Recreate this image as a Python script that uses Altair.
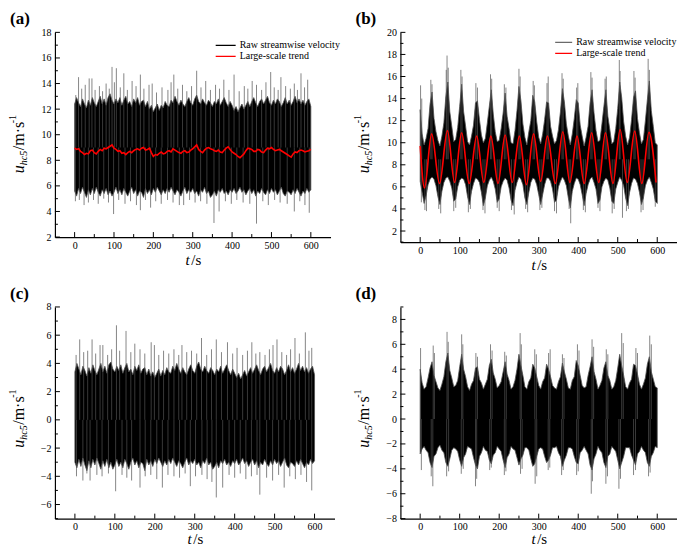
import altair as alt
import pandas as pd

FONT = "Times New Roman, Liberation Serif, serif"
RAW = "Raw streamwise velocity"
TREND = "Large-scale trend"

X_MAJOR = [0, 100, 200, 300, 400, 500, 600]
X_MINOR = [50, 150, 250, 350, 450, 550]

T5 = list(range(0, 601, 5))

# ---------------- panel (a): raw velocity + large-scale trend ----------------
A_UP = [12.4, 12.9, 12.5, 12.2, 12.8, 12.4, 12.1, 12.7, 12.3, 12.9,
        12.5, 12.2, 12.6, 13.0, 12.4, 12.8, 12.3, 12.9, 13.2, 12.7,
        12.4, 12.8, 12.5, 12.9, 12.3, 12.7, 13.0, 12.4, 12.6, 12.2,
        12.8, 12.5, 12.9, 12.3, 12.6, 12.7, 12.2, 12.6, 12.0, 12.3,
        11.8, 12.1, 12.4, 11.9, 12.3, 12.1, 12.6, 12.3, 12.2, 12.7,
        12.5, 13.0, 12.6, 12.3, 12.7, 12.4, 12.2, 12.6, 12.9, 12.5,
        12.3, 12.8, 13.1, 12.6, 12.4, 12.8, 12.5, 12.3, 12.7, 12.5,
        12.2, 12.6, 12.4, 12.8, 12.3, 12.6, 12.9, 12.5, 12.2, 12.6,
        12.3, 11.9, 12.2, 11.8, 12.1, 12.4, 12.0, 12.3, 12.6, 12.2,
        12.6, 12.9, 12.5, 12.2, 12.6, 12.8, 12.4, 12.7, 13.0, 12.5,
        12.3, 12.7, 12.4, 12.8, 12.6, 12.2, 12.5, 12.9, 12.4, 12.7,
        12.3, 12.6, 13.0, 12.5, 12.8, 12.4, 12.7, 12.3, 12.6, 12.8,
        12.2]
A_LO = [5.6, 5.2, 5.8, 5.4, 5.9, 5.5, 5.1, 5.7, 5.3, 5.8,
        5.4, 5.9, 5.5, 5.2, 5.7, 5.4, 5.8, 5.3, 5.6, 5.2,
        5.5, 5.9, 5.4, 5.7, 5.3, 5.8, 5.5, 5.2, 5.6, 5.9,
        5.4, 5.7, 5.2, 5.6, 5.5, 5.1, 5.8, 5.4, 5.7, 5.3,
        5.8, 5.5, 5.9, 5.6, 5.3, 5.7, 5.4, 5.8, 5.5, 5.9,
        5.6, 5.3, 5.7, 5.5, 5.2, 5.6, 5.9, 5.4, 5.7, 5.5,
        5.8, 5.4, 5.6, 5.2, 5.7, 5.5, 5.9, 5.4, 5.6, 5.1,
        5.3, 5.6, 5.2, 5.7, 5.5, 5.8, 5.4, 5.6, 5.3, 5.7,
        5.5, 5.8, 5.4, 5.6, 5.9, 5.5, 5.7, 5.3, 5.6, 5.8,
        5.4, 5.7, 5.2, 5.6, 5.4, 5.8, 5.5, 5.3, 5.7, 5.4,
        5.8, 5.5, 5.7, 5.3, 5.6, 5.9, 5.4, 5.2, 5.6, 5.5,
        5.3, 5.7, 5.4, 5.8, 5.5, 5.2, 5.6, 5.4, 5.8, 5.5,
        5.7]
A_TREND = [8.95, 8.85, 8.90, 8.70, 8.60, 8.45, 8.55, 8.50, 8.75, 8.80,
           8.60, 8.50, 8.70, 8.85, 8.75, 8.95, 8.90, 9.00, 9.10, 9.20,
           8.95, 8.85, 8.70, 8.75, 8.55, 8.60, 8.45, 8.60, 8.70, 8.60,
           8.75, 8.85, 8.90, 8.80, 8.95, 9.00, 8.80, 8.85, 8.95, 8.60,
           8.30, 8.45, 8.40, 8.55, 8.65, 8.50, 8.55, 8.70, 8.75, 8.65,
           8.90, 8.80, 8.70, 8.60, 8.55, 8.70, 8.75, 8.60, 8.65, 8.80,
           8.90, 9.05, 9.20, 8.85, 8.70, 8.60, 8.80, 8.95, 9.00, 8.90,
           8.85, 8.75, 8.70, 8.80, 8.65, 8.60, 8.80, 8.95, 9.05, 8.85,
           8.65, 8.55, 8.45, 8.30, 8.20, 8.35, 8.50, 8.75, 8.95, 8.90,
           8.85, 8.70, 8.70, 8.85, 8.80, 8.65, 8.60, 8.80, 8.95, 8.90,
           9.00, 8.85, 8.75, 8.80, 8.85, 8.75, 8.65, 8.55, 8.45, 8.35,
           8.25, 8.50, 8.65, 8.60, 8.75, 8.80, 8.75, 8.65, 8.70, 8.75,
           8.85]
A_SPK_UP_T = [3, 10, 18, 27, 37, 44, 52, 63, 71, 80,
              88, 95, 101, 106, 116, 125, 134, 146, 156, 167,
              176, 189, 197, 208, 222, 237, 245, 252, 262, 274,
              285, 297, 310, 321, 333, 345, 358, 368, 379, 392,
              405, 418, 431, 440, 451, 462, 475, 486, 498, 507,
              517, 524, 536, 548, 558, 566, 575, 584, 592]
A_SPK_UP_V = [13.1, 14.5, 13.6, 13.9, 14.4, 14.4, 13.5, 13.8, 13.4, 14.0,
              13.6, 15.3, 14.1, 15.2, 13.7, 14.8, 13.5, 14.2, 13.8, 14.7,
              13.6, 13.9, 14.0, 13.3, 13.7, 13.5, 14.1, 14.7, 13.6, 13.9,
              13.4, 13.8, 15.0, 13.7, 14.2, 13.5, 13.9, 13.6, 14.3, 13.5,
              14.7, 13.4, 13.8, 13.6, 14.2, 13.9, 13.5, 14.1, 14.9, 13.7,
              13.5, 14.5, 13.8, 13.6, 14.0, 13.5, 14.8, 13.7, 14.3]
A_SPK_DN_T = [2, 12, 24, 35, 48, 60, 74, 86, 99, 112,
              128, 142, 157, 167, 180, 193, 206, 220, 236, 250,
              266, 277, 292, 306, 320, 336, 354, 367, 383, 398,
              412, 428, 445, 462, 478, 492, 508, 522, 540, 558,
              572, 585, 596]
A_SPK_DN_V = [4.8, 4.9, 4.5, 4.7, 4.9, 4.6, 5.0, 4.7, 3.8, 4.9,
              4.6, 4.8, 4.5, 4.1, 4.9, 4.3, 4.8, 4.6, 4.9, 4.7,
              4.5, 4.5, 4.9, 4.7, 4.8, 4.6, 3.1, 4.0, 4.8, 4.6,
              4.9, 4.7, 4.6, 3.05, 4.8, 4.5, 4.9, 4.7, 4.6, 4.0,
              4.8, 4.5, 3.9]

# ---------------- panel (c): fluctuation of (a) ----------------
C_UP = [3.4, 4.0, 3.6, 3.2, 3.8, 3.5, 3.1, 3.7, 3.3, 3.9,
        3.5, 3.2, 3.6, 4.0, 3.4, 3.8, 3.3, 3.9, 4.1, 3.6,
        3.4, 3.8, 3.5, 3.9, 3.3, 3.7, 4.0, 3.4, 3.6, 3.2,
        3.8, 3.5, 3.9, 3.3, 3.6, 3.7, 3.2, 3.6, 3.1, 3.4,
        3.0, 3.3, 3.6, 3.1, 3.5, 3.2, 3.7, 3.4, 3.3, 3.8,
        3.5, 4.0, 3.6, 3.3, 3.7, 3.4, 3.2, 3.6, 3.9, 3.5,
        3.3, 3.8, 4.1, 3.6, 3.4, 3.8, 3.5, 3.3, 3.7, 3.5,
        3.2, 3.6, 3.4, 3.8, 3.3, 3.6, 3.9, 3.5, 3.2, 3.6,
        3.3, 3.0, 3.3, 2.9, 3.2, 3.5, 3.1, 3.4, 3.7, 3.3,
        3.6, 3.9, 3.5, 3.2, 3.6, 3.8, 3.4, 3.7, 4.0, 3.5,
        3.3, 3.7, 3.4, 3.8, 3.6, 3.2, 3.5, 3.9, 3.4, 3.7,
        3.3, 3.6, 4.0, 3.5, 3.8, 3.4, 3.7, 3.3, 3.6, 3.8,
        3.2]
C_LO = [-3.0, -3.4, -2.8, -3.3, -2.7, -3.2, -3.6, -2.9, -3.4, -2.8,
        -3.2, -2.7, -3.1, -3.5, -2.9, -3.3, -2.8, -3.4, -3.0, -3.5,
        -3.2, -2.8, -3.3, -3.0, -3.4, -2.8, -3.1, -3.5, -3.0, -2.7,
        -3.2, -2.9, -3.4, -3.0, -3.1, -3.6, -2.8, -3.2, -2.9, -3.3,
        -2.8, -3.1, -2.7, -3.0, -3.3, -2.9, -3.2, -2.8, -3.1, -2.7,
        -3.0, -3.3, -2.9, -3.1, -3.4, -3.0, -2.7, -3.2, -2.9, -3.1,
        -2.8, -3.2, -3.0, -3.4, -2.9, -3.1, -2.7, -3.2, -3.0, -3.5,
        -3.3, -3.0, -3.4, -2.9, -3.1, -2.8, -3.2, -3.0, -3.3, -2.9,
        -3.1, -2.8, -3.2, -3.0, -2.7, -3.1, -2.9, -3.3, -3.0, -2.8,
        -3.2, -2.9, -3.4, -3.0, -3.2, -2.8, -3.1, -3.3, -2.9, -3.2,
        -2.8, -3.1, -2.9, -3.3, -3.0, -2.7, -3.2, -3.4, -3.0, -3.1,
        -3.3, -2.9, -3.2, -2.8, -3.1, -3.4, -3.0, -3.2, -2.8, -3.1,
        -2.9]
C_SPK_UP_T = [3, 12, 22, 32, 43, 52, 63, 70, 82, 92,
              104, 112, 128, 140, 150, 163, 175, 191, 199, 210,
              222, 235, 248, 260, 268, 280, 292, 305, 317, 330,
              342, 354, 367, 382, 395, 406, 420, 432, 443, 453,
              463, 476, 487, 496, 506, 518, 530, 540, 551, 562,
              577, 586, 593]
C_SPK_UP_V = [4.6, 5.7, 4.8, 4.9, 5.7, 4.7, 5.3, 5.3, 4.6, 5.0,
              6.7, 4.9, 6.3, 4.8, 5.4, 5.0, 4.7, 5.5, 5.3, 4.6,
              4.9, 4.7, 5.0, 4.6, 5.3, 4.8, 4.9, 4.7, 5.8, 4.6,
              5.0, 5.7, 4.8, 5.5, 4.7, 5.1, 4.6, 4.9, 5.5, 4.7,
              4.8, 4.6, 5.0, 5.3, 5.7, 4.8, 4.6, 5.0, 5.8, 4.7,
              6.2, 4.9, 5.1]
C_SPK_DN_T = [4, 20, 30, 38, 55, 68, 84, 102, 118, 130,
              142, 163, 176, 190, 205, 219, 233, 248, 262, 276,
              289, 302, 318, 331, 343, 354, 370, 386, 400, 414,
              428, 442, 456, 463, 480, 495, 510, 524, 538, 552,
              566, 580, 593]
C_SPK_DN_V = [-4.0, -4.3, -3.8, -4.3, -3.9, -4.0, -3.8, -5.06, -3.9, -4.1,
              -4.3, -4.8, -4.0, -3.9, -4.2, -4.8, -3.9, -4.0, -4.1, -3.8,
              -4.7, -4.0, -3.9, -4.2, -4.4, -5.5, -4.8, -3.9, -4.1, -3.8,
              -4.2, -4.0, -3.9, -5.3, -4.1, -4.3, -3.9, -4.8, -4.0, -4.2,
              -3.9, -4.4, -5.0]

# ---------------- panel (b): modulated raw velocity + trend ----------------
B_UP = [13.0, 10.8, 9.8, 10.4, 11.3, 13.5, 14.6, 12.2, 11.0, 10.2,
        9.7, 10.6, 11.8, 14.2, 15.5, 12.8, 11.5, 10.1, 10.3, 11.4,
        13.3, 15.3, 12.8, 11.5, 10.1, 9.8, 10.6, 11.6, 13.6, 13.8,
        12.1, 10.7, 10.0, 10.4, 11.8, 13.3, 14.8, 12.6, 11.0, 10.1,
        10.2, 11.3, 12.7, 14.5, 12.4, 11.3, 10.0, 9.9, 11.1, 12.9,
        15.1, 13.8, 11.7, 10.5, 9.8, 11.0, 12.0, 14.3, 13.7, 11.9,
        10.5, 9.9, 10.8, 12.1, 13.7, 13.6, 11.5, 10.6, 9.9, 10.2,
        11.2, 12.8, 14.9, 13.7, 11.7, 10.6, 9.8, 10.8, 12.2, 13.9,
        13.6, 11.6, 10.6, 9.7, 10.5, 11.5, 13.6, 14.8, 12.7, 11.1,
        10.1, 10.2, 11.7, 13.3, 14.8, 12.4, 11.2, 9.9, 10.1, 11.3,
        13.1, 15.5, 14.1, 11.9, 10.6, 9.8, 10.5, 12.1, 14.1, 14.7,
        12.2, 10.9, 9.9, 10.3, 12.0, 13.9, 15.6, 12.9, 11.5, 10.0,
        9.8]
B_LO = [6.5, 5.5, 4.5, 5.2, 6.2, 6.7, 6.9, 6.7, 6.1, 5.1,
        4.4, 5.6, 6.4, 6.8, 6.9, 6.5, 5.9, 4.7, 4.9, 6.0,
        6.6, 6.8, 6.7, 6.2, 5.1, 4.4, 5.6, 6.3, 6.8, 6.7,
        6.4, 5.5, 4.3, 5.0, 6.1, 6.6, 6.9, 6.5, 5.8, 4.6,
        4.9, 6.0, 6.5, 6.8, 6.6, 5.9, 4.8, 4.3, 5.7, 6.4,
        6.9, 6.7, 6.2, 5.0, 4.4, 5.5, 6.4, 6.8, 6.7, 6.2,
        5.3, 4.4, 5.3, 6.2, 6.8, 6.8, 6.5, 5.8, 4.6, 4.8,
        6.0, 6.5, 6.9, 6.6, 6.1, 5.0, 4.1, 5.6, 6.3, 6.8,
        6.7, 6.2, 5.3, 4.3, 5.4, 6.2, 6.7, 6.9, 6.4, 5.8,
        4.5, 4.8, 6.0, 6.5, 6.8, 6.6, 5.9, 4.7, 4.5, 5.8,
        6.4, 6.9, 6.6, 6.1, 5.0, 4.3, 5.5, 6.3, 6.8, 6.7,
        6.3, 5.5, 4.4, 5.0, 6.1, 6.6, 6.9, 6.4, 5.8, 4.7,
        4.5]
B_TREND_T = [0, 11, 29, 49, 69, 87, 105, 124, 143, 161, 179, 197, 215, 233,
             251, 269, 287, 305, 322, 342, 361, 379, 397, 415, 434, 452,
             469, 488, 506, 524, 543, 561, 579, 597]
B_TREND_V = [9.7, 5.9, 10.8, 6.3, 11.1, 6.4, 10.9, 6.3, 10.6, 6.4, 10.6, 6.3, 10.7, 6.4,
             10.6, 6.2, 10.8, 6.5, 10.6, 6.3, 11.0, 6.4, 10.6, 6.3, 10.9, 6.4,
             10.9, 6.3, 11.2, 6.4, 11.05, 6.3, 10.95, 6.4]
B_SPK_UP_T = [1, 4, 27, 30, 66, 68, 71, 103, 106, 141,
              145, 178, 181, 213, 217, 250, 253, 286, 289, 321,
              324, 359, 362, 396, 399, 432, 435, 468, 471, 504,
              506, 541, 544, 577, 580]
B_SPK_UP_V = [15.2, 14.0, 15.7, 15.3, 16.6, 17.9, 16.8, 16.6, 16.0, 15.4,
              15.0, 16.2, 15.8, 15.3, 15.0, 16.7, 16.0, 15.6, 15.2, 15.4,
              16.0, 16.3, 15.8, 15.0, 15.4, 16.4, 15.9, 15.8, 16.0, 17.5,
              16.5, 16.5, 15.9, 17.6, 16.6]
B_SPK_DN_T = [3, 12, 16, 47, 52, 85, 90, 122, 127, 159,
              164, 195, 200, 231, 238, 267, 272, 303, 308, 340,
              345, 377, 381, 413, 418, 450, 455, 486, 491, 512,
              522, 527, 559, 564, 595]
B_SPK_DN_V = [4.6, 3.9, 3.8, 4.0, 3.6, 3.8, 4.1, 3.7, 4.0, 3.9,
              3.6, 4.1, 3.8, 3.9, 3.5, 4.0, 3.7, 3.9, 4.1, 3.8,
              3.6, 4.0, 2.7, 3.9, 3.7, 4.1, 3.8, 3.6, 4.0, 3.2,
              3.8, 4.0, 3.7, 3.9, 4.2]

# ---------------- panel (d): fluctuation of (b) ----------------
D_UP = [4.0, 2.9, 2.4, 2.6, 3.3, 4.1, 4.6, 3.5, 3.0, 2.5,
        2.3, 2.8, 3.4, 4.6, 5.3, 3.9, 3.3, 2.6, 2.7, 3.1,
        4.2, 5.2, 4.0, 3.4, 2.6, 2.3, 2.8, 3.1, 4.1, 4.2,
        3.2, 2.9, 2.4, 2.8, 3.2, 4.3, 4.8, 3.7, 3.2, 2.5,
        2.7, 3.0, 3.8, 4.6, 3.6, 3.1, 2.4, 2.6, 3.1, 4.0,
        5.2, 4.3, 3.5, 2.6, 2.4, 3.0, 3.3, 4.4, 4.1, 3.4,
        2.7, 2.4, 3.0, 3.3, 4.4, 4.0, 3.4, 2.7, 2.5, 2.4,
        3.0, 3.4, 4.5, 3.8, 3.2, 2.5, 2.4, 3.1, 3.4, 4.7,
        4.3, 3.5, 2.7, 2.5, 2.6, 3.5, 4.2, 5.0, 3.8, 3.2,
        2.4, 2.7, 3.1, 4.1, 4.6, 3.5, 3.1, 2.4, 2.6, 3.1,
        4.1, 5.2, 4.3, 3.5, 2.6, 2.4, 2.9, 3.2, 4.4, 4.3,
        3.6, 2.8, 2.4, 2.8, 3.3, 4.4, 5.0, 3.8, 3.2, 2.6,
        2.5]
D_LO = [-2.8, -2.4, -2.2, -2.5, -2.7, -3.5, -3.9, -3.0, -2.8, -2.3,
        -2.1, -2.5, -2.7, -3.5, -3.8, -3.2, -2.5, -2.3, -2.4, -2.6,
        -3.3, -3.8, -3.1, -2.8, -2.2, -2.3, -2.4, -3.1, -3.7, -4.0,
        -3.0, -2.7, -2.2, -2.5, -2.6, -3.3, -3.6, -2.9, -2.7, -2.2,
        -2.4, -2.6, -3.3, -3.9, -3.1, -2.8, -2.2, -2.4, -2.5, -3.1,
        -3.7, -3.2, -2.9, -2.3, -2.3, -2.5, -3.2, -3.8, -3.6, -3.0,
        -2.4, -2.3, -2.4, -3.0, -3.5, -3.3, -2.9, -2.3, -2.3, -2.2,
        -2.7, -3.0, -3.8, -3.3, -2.9, -2.3, -2.3, -2.4, -3.0, -3.5,
        -3.6, -2.7, -2.5, -2.2, -2.5, -2.8, -3.7, -4.1, -3.2, -2.8,
        -2.2, -2.5, -2.7, -3.5, -3.9, -3.0, -2.8, -2.2, -2.4, -2.6,
        -3.3, -4.0, -3.5, -3.0, -2.3, -2.3, -2.3, -2.9, -3.3, -3.7,
        -2.8, -2.6, -2.2, -2.5, -2.7, -3.5, -3.8, -3.0, -2.7, -2.2,
        -2.3]
D_SPK_UP_T = [1, 33, 36, 68, 71, 105, 108, 141, 145, 178,
              182, 214, 218, 253, 256, 290, 294, 325, 329, 360,
              364, 398, 402, 435, 439, 471, 475, 510, 514, 546,
              550, 581, 585]
D_SPK_UP_V = [5.7, 5.9, 5.3, 7.0, 6.2, 6.8, 6.0, 5.3, 5.0, 6.0,
              5.5, 5.4, 5.1, 6.9, 6.0, 5.6, 5.2, 5.3, 5.6, 5.2,
              4.9, 6.0, 5.5, 6.4, 5.8, 5.6, 5.2, 6.9, 6.1, 5.7,
              5.3, 6.7, 6.0]
D_SPK_DN_T = [3, 28, 32, 67, 72, 104, 109, 140, 143, 176,
              180, 213, 217, 254, 258, 291, 295, 324, 328, 358,
              362, 396, 400, 433, 436, 470, 474, 503, 507, 540,
              545, 578, 582]
D_SPK_DN_V = [-4.1, -4.6, -5.4, -4.6, -4.2, -4.4, -4.0, -5.4, -4.8, -4.1,
              -3.9, -4.5, -4.2, -4.4, -4.0, -5.2, -4.6, -4.1, -3.9, -4.5,
              -4.1, -4.5, -4.2, -6.0, -5.0, -5.2, -4.6, -5.6, -4.8, -4.5,
              -4.1, -4.6, -4.3]

for a, b in [(T5, A_UP), (T5, A_LO), (T5, A_TREND), (T5, C_UP), (T5, C_LO),
             (T5, B_UP), (T5, B_LO), (T5, D_UP), (T5, D_LO),
             (A_SPK_UP_T, A_SPK_UP_V), (A_SPK_DN_T, A_SPK_DN_V),
             (C_SPK_UP_T, C_SPK_UP_V), (C_SPK_DN_T, C_SPK_DN_V),
             (B_TREND_T, B_TREND_V), (B_SPK_UP_T, B_SPK_UP_V), (B_SPK_DN_T, B_SPK_DN_V),
             (D_SPK_UP_T, D_SPK_UP_V), (D_SPK_DN_T, D_SPK_DN_V)]:
    assert len(a) == len(b), (len(a), len(b))


def txt(s, x, y, size, style="normal", weight="normal", angle=0,
        align="left", baseline="alphabetic"):
    return alt.Chart(pd.DataFrame({"s": [s]})).mark_text(
        font=FONT, fontSize=size, fontStyle=style, fontWeight=weight,
        angle=angle, align=align, baseline=baseline, color="black"
    ).encode(text="s:N", x=alt.value(x), y=alt.value(y))


def panel(tag, W, H, ydom, ymajor, yminor, up, lo,
          su_t, su_v, sd_t, sd_v, base, xt_dy, yt_center,
          trend_t=None, trend_v=None, trend_interp="linear",
          raw_color="black", leg_x=0, leg_y=0, leg_len=20):
    xs = alt.Scale(domain=[-50, 650], nice=False, zero=False)
    ys = alt.Scale(domain=ydom, nice=False, zero=False)
    xax = alt.Axis(values=X_MAJOR, title=None, ticks=False, grid=False,
                   labelPadding=3, labelFlush=False)
    yax = alt.Axis(values=ymajor, title=None, ticks=False, grid=False,
                   labelPadding=4, labelFlush=False)

    def X(f):
        return alt.X(f, scale=xs, axis=xax)

    def Y(f):
        return alt.Y(f, scale=ys, axis=yax)

    env = pd.DataFrame({"t": T5, "up": up, "lo": lo})
    layers = [
        alt.Chart(env).mark_area(color="black", interpolate="linear",
                                 stroke="#505050", strokeWidth=0.8).encode(
            x=X("t:Q"), y=Y("up:Q"), y2="lo:Q"),
        alt.Chart(pd.DataFrame({"t": su_t, "v": su_v})).mark_rule(
            color="#505050", strokeWidth=0.7).encode(
            x=X("t:Q"), y=Y("v:Q"), y2=alt.datum(base)),
        alt.Chart(pd.DataFrame({"t": sd_t, "v": sd_v})).mark_rule(
            color="#505050", strokeWidth=0.7).encode(
            x=X("t:Q"), y=Y("v:Q"), y2=alt.datum(base)),
    ]
    if trend_t is not None:
        tr = pd.DataFrame({"t": trend_t, "v": trend_v, "series": TREND})
        layers.append(
            alt.Chart(tr).mark_line(strokeWidth=1.6, interpolate=trend_interp).encode(
                x=X("t:Q"), y=Y("v:Q"),
                color=alt.Color("series:N",
                                scale=alt.Scale(domain=[RAW, TREND],
                                                range=[raw_color, "#ff0000"]),
                                legend=alt.Legend(
                                    orient="none", legendX=leg_x, legendY=leg_y,
                                    title=None, symbolType="stroke",
                                    symbolSize=leg_len * leg_len,
                                    symbolStrokeWidth=1.3, labelFont=FONT,
                                    labelFontSize=10, labelColor="black",
                                    labelOffset=3, clipHeight=11, rowPadding=0,
                                    padding=0))))
    # inward tick marks (major and minor)
    layers += [
        alt.Chart(pd.DataFrame({"v": ymajor})).mark_rule(color="black", strokeWidth=1).encode(
            y=Y("v:Q"), x=alt.value(0), x2=alt.value(5)),
        alt.Chart(pd.DataFrame({"v": yminor})).mark_rule(color="black", strokeWidth=1).encode(
            y=Y("v:Q"), x=alt.value(0), x2=alt.value(3)),
        alt.Chart(pd.DataFrame({"v": X_MAJOR})).mark_rule(color="black", strokeWidth=1).encode(
            x=X("v:Q"), y=alt.value(H), y2=alt.value(H - 5)),
        alt.Chart(pd.DataFrame({"v": X_MINOR})).mark_rule(color="black", strokeWidth=1).encode(
            x=X("v:Q"), y=alt.value(H), y2=alt.value(H - 3)),
    ]
    # panel tag
    layers.append(txt(tag, -45, -21, 17, weight="bold", baseline="top"))
    # y title: u_hc5 / m·s^-1
    y0 = yt_center + 29
    layers += [
        txt("u", -31, y0, 16, style="italic", angle=270),
        txt("hc5", -28, y0 - 8, 10, style="italic", angle=270),
        txt("/m\u00b7s", -31, y0 - 23, 16, angle=270),
        txt("-1", -39, y0 - 50, 10, angle=270),
    ]
    # x title: t/s
    layers += [
        txt("t", W / 2 - 3, H + xt_dy, 15, style="italic", align="right"),
        txt("/s", W / 2 - 1.5, H + xt_dy, 15, align="left"),
    ]
    return alt.layer(*layers).properties(width=W, height=H)


pa = panel("(a)", 276, 205, [2, 18], list(range(2, 19, 2)), list(range(3, 18, 2)),
           A_UP, A_LO, A_SPK_UP_T, A_SPK_UP_V, A_SPK_DN_T, A_SPK_DN_V, 9.0,
           28, 112, trend_t=T5, trend_v=A_TREND, trend_interp="linear",
           raw_color="black", leg_x=160, leg_y=7.5, leg_len=20)
pb = panel("(b)", 277, 210, [1, 20], list(range(2, 21, 2)), list(range(1, 20, 2)),
           B_UP, B_LO, B_SPK_UP_T, B_SPK_UP_V, B_SPK_DN_T, B_SPK_DN_V, 8.5,
           28, 112, trend_t=B_TREND_T, trend_v=B_TREND_V, trend_interp="monotone",
           raw_color="#6a6a6a", leg_x=154, leg_y=4.5, leg_len=17)
pc = panel("(c)", 280, 212, [-7, 8], list(range(-6, 9, 2)), list(range(-7, 8, 2)),
           C_UP, C_LO, C_SPK_UP_T, C_SPK_UP_V, C_SPK_DN_T, C_SPK_DN_V, 0.0,
           25, 112)
pdd = panel("(d)", 277, 212, [-8, 9], list(range(-8, 9, 2)), list(range(-7, 10, 2)),
            D_UP, D_LO, D_SPK_UP_T, D_SPK_UP_V, D_SPK_DN_T, D_SPK_DN_V, 0.0,
            25, 112)

chart = alt.concat(pa, pb, pc, pdd, columns=2,
                   spacing={"row": 65, "column": 66}).properties(
    bounds="flush", padding={"top": 2, "left": 0, "right": 0, "bottom": 0}
).resolve_scale(color="independent").configure_view(stroke=None).configure_axis(
    labelFont=FONT, labelFontSize=10, labelColor="black",
    domainColor="black", domainWidth=1.2
)

chart.save("out.html", embed_options={"renderer": "svg", "actions": False})
